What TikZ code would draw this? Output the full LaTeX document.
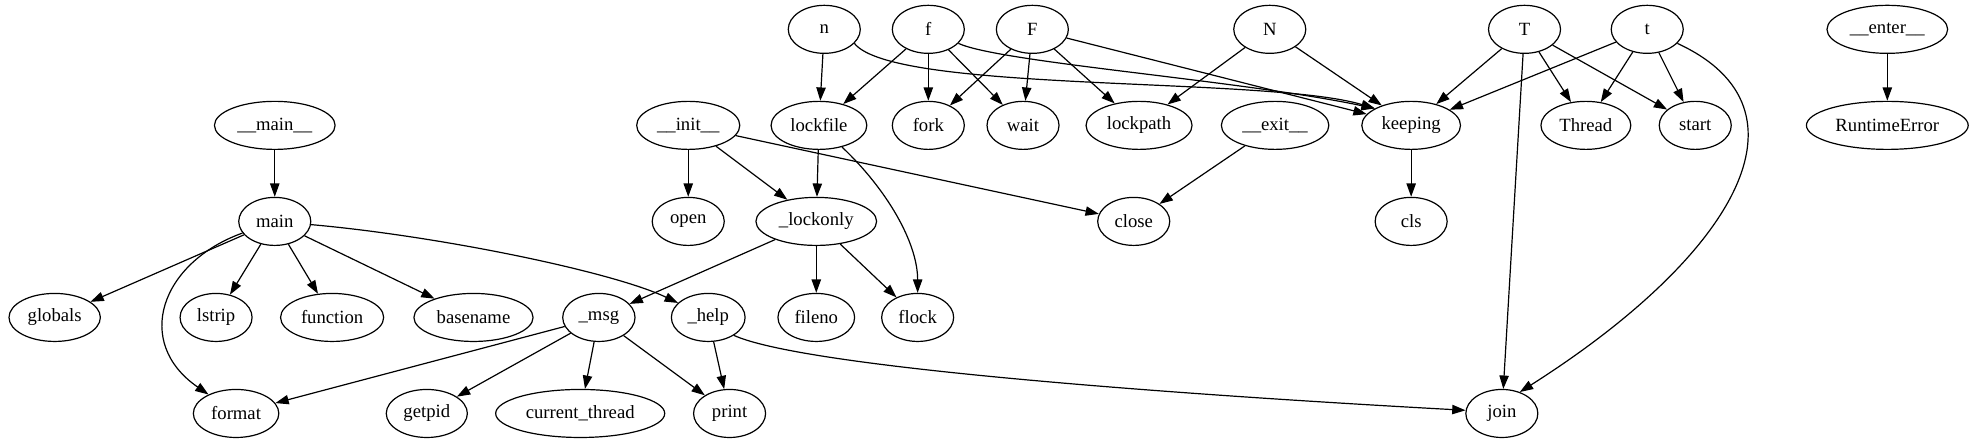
\documentclass[tikz,border=0pt]{standalone}
\usepackage{fontspec}
\setmainfont{Liberation Serif}
\usetikzlibrary{shapes.geometric,arrows.meta}

\begin{document}
\begin{tikzpicture}[x=1pt,y=1pt,
    fn/.style={ellipse, draw, line width=0.9pt, minimum width=54pt, minimum height=36pt,
      inner xsep=4pt, inner ysep=0pt, font=\fontsize{14}{16}\selectfont},
    call/.style={-{Triangle[length=10pt,width=7pt]}, line width=0.9pt}]
    \useasboundingbox (0,0) rectangle (1480,332);
    \node[fn] (vn) at (618,310) {n};
    \node[fn] (vf) at (696,310) {f};
    \node[fn] (vF) at (774,310) {F};
    \node[fn] (vN) at (952,310) {N};
    \node[fn] (vT) at (1143,310) {T};
    \node[fn] (vt) at (1235,310) {t};
    \node[fn] (enterf) at (1415,310) {\_\_enter\_\_};
    \node[fn] (mainmod) at (206,238) {\_\_main\_\_};
    \node[fn] (initf) at (516,238) {\_\_init\_\_};
    \node[fn] (lockfile) at (614,238) {lockfile};
    \node[fn] (fork) at (696,238) {fork};
    \node[fn] (wait) at (767,238) {wait};
    \node[fn] (lockpath) at (854,238) {lockpath};
    \node[fn] (exitf) at (956,238) {\_\_exit\_\_};
    \node[fn] (keeping) at (1058,238) {keeping};
    \node[fn] (thread) at (1189,238) {Thread};
    \node[fn] (start) at (1271,238) {start};
    \node[fn] (rterror) at (1415,238) {RuntimeError};
    \node[fn] (main) at (206,166) {main};
    \node[fn] (open) at (516,166) {open};
    \node[fn] (lockonly) at (612,166) {\_lockonly};
    \node[fn] (close) at (850,166) {close};
    \node[fn] (cls) at (1058,166) {cls};
    \node[fn] (globals) at (41,94) {globals};
    \node[fn] (lstrip) at (162,94) {lstrip};
    \node[fn] (function) at (249,94) {function};
    \node[fn] (basename) at (355,94) {basename};
    \node[fn] (msg) at (449,94) {\_msg};
    \node[fn] (help) at (531,94) {\_help};
    \node[fn] (fileno) at (612,94) {fileno};
    \node[fn] (flock) at (688,94) {flock};
    \node[fn] (format) at (177,22) {format};
    \node[fn] (getpid) at (320,22) {getpid};
    \node[fn] (cthread) at (435,22) {current\_thread};
    \node[fn] (print) at (547,22) {print};
    \node[fn] (join) at (1126,22) {join};
    \draw[call] (mainmod) -- (main);
    \draw[call] (main) -- (globals);
    \draw[call] (main) -- (lstrip);
    \draw[call] (main) -- (function);
    \draw[call] (main) -- (basename);
    \draw[call] (main) .. controls (120,135) and (100,75) .. (format);
    \draw[call] (main) .. controls (330,155) and (460,128) .. (help);
    \draw[call] (msg) -- (format);
    \draw[call] (msg) -- (getpid);
    \draw[call] (msg) -- (cthread);
    \draw[call] (msg) -- (print);
    \draw[call] (help) -- (print);
    \draw[call] (help.-35) .. controls (600,58) and (850,38) .. (join.175);
    \draw[call] (initf) -- (open);
    \draw[call] (initf) -- (lockonly);
    \draw[call] (initf) -- (close);
    \draw[call] (lockfile) -- (lockonly);
    \draw[call] (lockfile) .. controls (665,190) and (688,150) .. (flock);
    \draw[call] (lockonly) -- (msg);
    \draw[call] (lockonly) -- (fileno);
    \draw[call] (lockonly) -- (flock);
    \draw[call] (vn) -- (lockfile);
    \draw[call] (vn.-25) .. controls (670,262) and (950,275) .. (keeping.155);
    \draw[call] (vf) -- (lockfile);
    \draw[call] (vf) -- (fork);
    \draw[call] (vf) -- (wait);
    \draw[call] (vf.-25) .. controls (750,285) and (930,272) .. (keeping.155);
    \draw[call] (vF) -- (fork);
    \draw[call] (vF) -- (wait);
    \draw[call] (vF) -- (lockpath);
    \draw[call] (vF) -- (keeping);
    \draw[call] (vN) -- (lockpath);
    \draw[call] (vN) -- (keeping);
    \draw[call] (exitf) -- (close);
    \draw[call] (keeping) -- (cls);
    \draw[call] (vT) -- (keeping);
    \draw[call] (vT) -- (thread);
    \draw[call] (vT) -- (start);
    \draw[call] (vT) -- (join);
    \draw[call] (vt) -- (keeping);
    \draw[call] (vt) -- (thread);
    \draw[call] (vt) -- (start);
    \draw[call] (vt.-25) .. controls (1365,250) and (1300,140) .. (join.50);
    \draw[call] (enterf) -- (rterror);
\end{tikzpicture}
\end{document}
